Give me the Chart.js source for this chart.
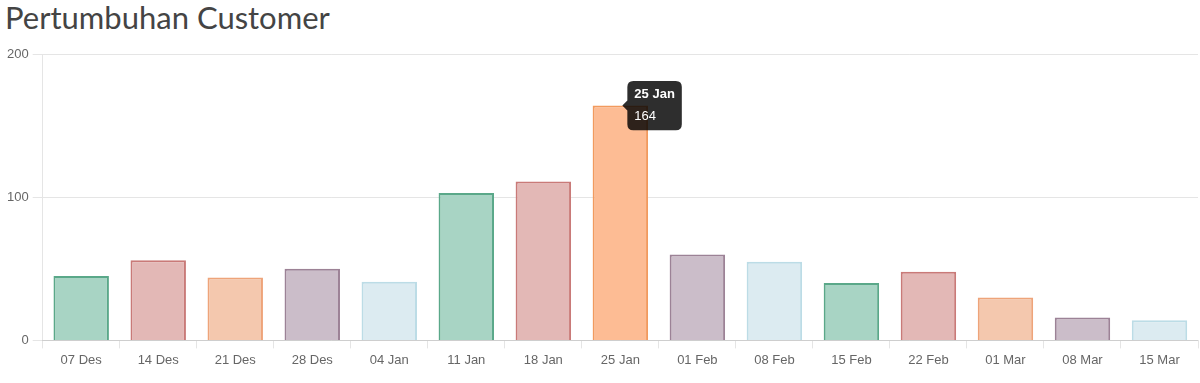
<!DOCTYPE html>
<html>
<head>
<meta charset="utf-8">
<script src="https://cdn.jsdelivr.net/npm/chart.js@4/dist/chart.umd.min.js"></script>
<style>
  html, body { margin: 0; padding: 0; background: #fff; }
  #title { position: absolute; left: 5px; top: -1px; font-family: Lato, "Open Sans", sans-serif; font-size: 31px; color: #444; line-height: 36px; }
  #wrap { position: absolute; left: 0; top: 42px; width: 1200px; height: 341px; }
</style>
</head>
<body>
<div id="title">Pertumbuhan Customer</div>
<div id="wrap"><canvas id="c"></canvas></div>
<script>
const categories = ["07 Des","14 Des","21 Des","28 Des","04 Jan","11 Jan","18 Jan","25 Jan","01 Feb","08 Feb","15 Feb","22 Feb","01 Mar","08 Mar","15 Mar"];
const customers = [45, 56, 44, 50, 41, 103, 111, 164, 60, 55, 40, 48, 30, 16, 14];
const yTicks = [0, 100, 200];
const activeIndex = 7;

const fills = ["#a8d4c4","#e3b8b6","#f4c8ae","#cbbdc9","#dcebf1"];
const borders = ["#5aa889","#c97a78","#eea47a","#9c8296","#bcdce6"];
const bg = categories.map((_, i) => i === activeIndex ? "#fdbc94" : fills[i % 5]);
const bd = categories.map((_, i) => i === activeIndex ? "#f29a5e" : borders[i % 5]);

const font = "'Helvetica Neue', Helvetica, Arial, 'Liberation Sans', sans-serif";
Chart.defaults.font.family = font;

const chart = new Chart(document.getElementById('c'), {
  type: 'bar',
  data: {
    labels: categories,
    datasets: [{
      label: 'Customer',
      data: customers,
      backgroundColor: bg,
      borderColor: bd,
      hoverBackgroundColor: bg,
      hoverBorderColor: bd,
      borderWidth: 2
    }]
  },
  options: {
    responsive: true,
    maintainAspectRatio: false,
    animation: false,
    events: [],
    layout: { padding: { left: 3, right: 2, top: 12, bottom: 11 } },
    plugins: {
      legend: { display: false },
      title: { display: false },
      tooltip: {
        enabled: true,
        backgroundColor: 'rgba(0,0,0,0.82)',
        displayColors: false,
        xAlign: 'left',
        yAlign: 'center',
        titleFont: { family: font, size: 13, weight: 'bold' },
        bodyFont: { family: font, size: 13 },
        padding: { x: 7, y: 6 },
        cornerRadius: 6,
        caretSize: 5,
        callbacks: {
          label: (ctx) => String(ctx.parsed.y)
        }
      }
    },
    scales: {
      x: {
        grid: { display: true, drawOnChartArea: false, drawTicks: true, offset: true, tickLength: 8, color: 'rgba(0,0,0,0.1)' },
        border: { display: true, color: 'rgba(0,0,0,0.1)' },
        ticks: { color: '#666', font: { size: 13 }, maxRotation: 0, autoSkip: false, padding: 4 }
      },
      y: {
        min: 0, max: 200,
        afterBuildTicks: (axis) => { axis.ticks = yTicks.map(v => ({ value: v })); },
        grid: { color: 'rgba(0,0,0,0.1)', tickLength: 10 },
        border: { display: true, color: 'rgba(0,0,0,0.1)' },
        ticks: { color: '#666', font: { size: 13 }, padding: 4 }
      }
    }
  }
});

const el = chart.getDatasetMeta(0).data[activeIndex];
chart.setActiveElements([{ datasetIndex: 0, index: activeIndex }]);
chart.tooltip.setActiveElements([{ datasetIndex: 0, index: activeIndex }], { x: el.x, y: el.y });
chart.update();
</script>
</body>
</html>
